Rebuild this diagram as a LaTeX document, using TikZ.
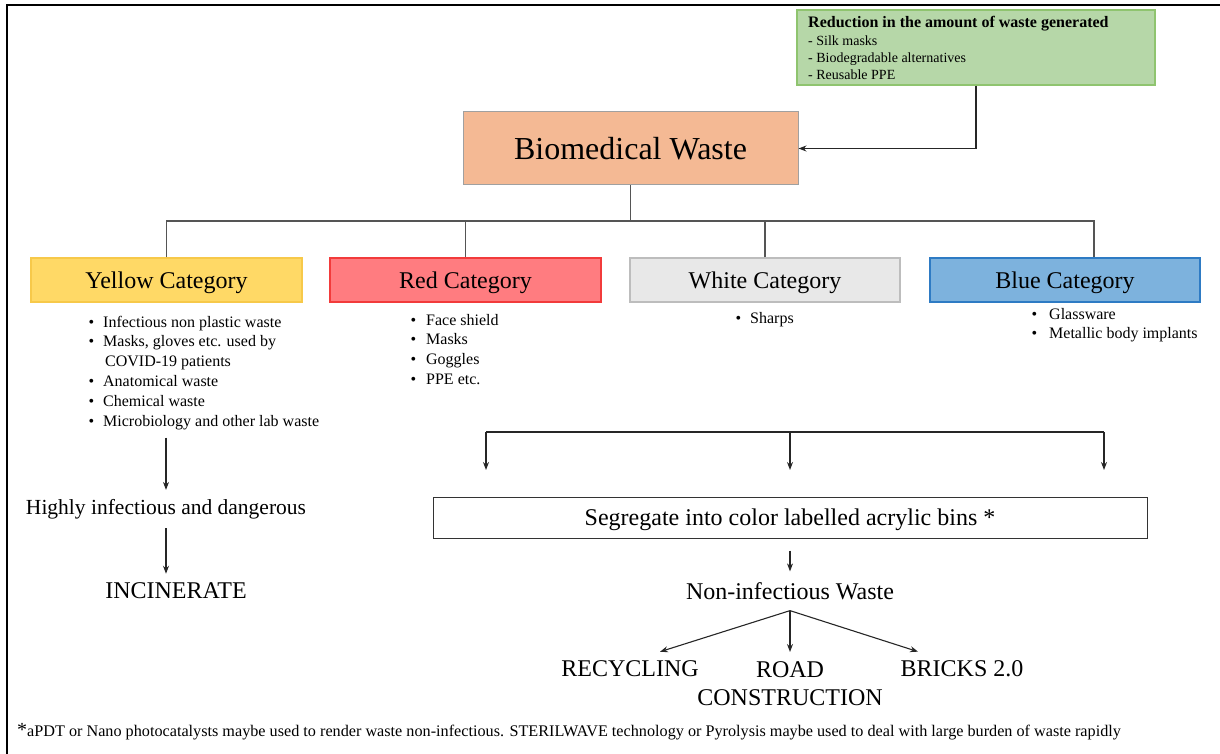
\documentclass[tikz,border=0pt]{standalone}
\usepackage{fontspec}
\setmainfont{Liberation Serif}
\usetikzlibrary{arrows.meta}
\definecolor{gfill}{HTML}{B6D7A8}
\definecolor{gdraw}{HTML}{8FC46F}
\definecolor{pfill}{HTML}{F4B994}
\definecolor{pdraw}{HTML}{A0A0A0}
\definecolor{yfill}{HTML}{FFD966}
\definecolor{ydraw}{HTML}{F7C94A}
\definecolor{rfill}{HTML}{FF7C80}
\definecolor{rdraw}{HTML}{F23B3B}
\definecolor{wfill}{HTML}{E8E8E8}
\definecolor{wdraw}{HTML}{BDBDBD}
\definecolor{bfill}{HTML}{7DB2DD}
\definecolor{bdraw}{HTML}{2E7BC4}
\definecolor{lgray}{HTML}{555555}
\newcommand{\fs}[2]{\fontsize{#1}{#2}\selectfont}
\newcommand{\bl}[2]{\makebox[#1][l]{\textbullet}#2}
\begin{document}
\begin{tikzpicture}[x=1pt,y=-1pt,
  box/.style={draw, line width=1.2pt, inner sep=0pt, align=center},
  cat/.style={box, minimum width=271pt, minimum height=44pt, text depth=0pt, font=\fs{24}{28}},
  link/.style={draw=lgray, line width=1.3pt},
  arr/.style={draw=black!85, line width=1.1pt, -{Stealth[length=8pt,width=6pt]}},
  big/.style={font=\fs{24}{28}, inner sep=9pt},
  blist/.style={anchor=base west, inner sep=0pt, font=\fs{16}{19.9}},
]
\useasboundingbox (0,0) rectangle (1220,754);
\draw[line width=1.6pt] (7,754) -- (7,5) -- (1220,5);

% reduction box
\node[box, draw=gdraw, fill=gfill, minimum width=358pt, minimum height=75pt] (green) at (976,47.5) {};
\node[anchor=base west, inner sep=0pt, font=\fs{14}{16.8}] (greentxt) at (808,28)
  {\begin{tabular}[t]{@{}l@{}}{\fs{16}{16.8}\bfseries Reduction in the amount of waste generated}\\[1pt]
   - Silk masks\\ - Biodegradable alternatives\\ - Reusable PPE\end{tabular}};

% main box
\node[box, draw=pdraw, fill=pfill, line width=1pt, minimum width=335pt, minimum height=73pt, text depth=0pt, font=\fs{32}{36}] (main) at (630.5,148.5) {Biomedical Waste};
\draw[arr] (green.south) |- (main.east);

% categories
\node[cat, draw=ydraw, fill=yfill] (yellow) at (166.5,280) {Yellow Category};
\node[cat, draw=rdraw, fill=rfill] (red) at (465.5,280) {Red Category};
\node[cat, draw=wdraw, fill=wfill, minimum width=270pt] (white) at (765,280) {White Category};
\node[cat, draw=bdraw, fill=bfill, minimum width=270pt] (blue) at (1065,280) {Blue Category};

\coordinate (bus) at (630.5,221);
\draw[link] (main.south) -- (bus);
\draw[link] (yellow.north) |- (bus) -| ([xshift=29pt]blue.north);
\draw[link] (red.north) -- (red.north |- bus);
\draw[link] (white.north) -- (white.north |- bus);

% bullet lists
\node[blist] (ylist) at (88.5,327) {\begin{tabular}[t]{@{}l@{}}
  \bl{14.5pt}{Infectious non plastic waste}\\
  \bl{14.5pt}{Masks, gloves etc. used by}\\
  \hspace*{16.5pt}COVID-19 patients\\
  \bl{14.5pt}{Anatomical waste}\\
  \bl{14.5pt}{Chemical waste}\\
  \bl{14.5pt}{Microbiology and other lab waste}\end{tabular}};
\node[blist] (rlist) at (410.5,325) {\begin{tabular}[t]{@{}l@{}}
  \bl{15.5pt}{Face shield}\\ \bl{15.5pt}{Masks}\\ \bl{15.5pt}{Goggles}\\ \bl{15.5pt}{PPE etc.}\end{tabular}};
\node[blist] (wlist) at (735.5,323) {\bl{14.5pt}{Sharps}};
\node[blist] (blist) at (1031.5,319) {\begin{tabular}[t]{@{}l@{}}
  \bl{17.5pt}{Glassware}\\ \bl{17.5pt}{Metallic body implants}\end{tabular}};

% left flow
\node[inner sep=9pt, font=\fs{21.5}{26}] (highly) at (166,509) {Highly infectious and dangerous};
\node[big] (incin) at (176,591) {INCINERATE};
\draw[arr] (highly.north |- ylist.south) ++(0,5) -- (highly.north);
\draw[arr] (highly.south) -- (highly.south |- incin.north);

% right flow
\coordinate (rl) at (486,432);
\coordinate (rm) at (790,432);
\coordinate (rr) at (1104,432);
\draw[draw=black!85, line width=1.1pt] (rl) -- (rr);
\draw[arr] (rl) -- ++(0,38);
\draw[arr] (rm) -- ++(0,38);
\draw[arr] (rr) -- ++(0,38);

\node[box, draw=black!80, line width=1pt, minimum width=714pt, minimum height=41pt, text depth=0pt, font=\fs{24}{28}] (seg) at (790,517.5) {Segregate into color labelled acrylic bins *};
\node[big, inner sep=10.8pt] (noninf) at (790,591) {Non-infectious Waste};
\draw[arr] (seg.south) ++(0,12) -- (noninf.north);

\node[big] (recyc) at (630,669) {RECYCLING};
\node[big, anchor=north, align=center] (road) at (790,652) {ROAD\\CONSTRUCTION};
\node[big] (bricks) at (962,669) {BRICKS 2.0};
\draw[arr] (noninf.south) -- ([xshift=30pt]recyc.north);
\draw[arr] (noninf.south) -- (road.north);
\draw[arr] (noninf.south) -- ([xshift=-44pt]bricks.north);

% footnote
\node[anchor=base west, inner sep=0pt, font=\fs{16.2}{18}] (foot) at (17,736)
  {{\fs{20}{20}*}aPDT or Nano photocatalysts maybe used to render waste non-infectious. STERILWAVE technology or Pyrolysis maybe used to deal with large burden of waste rapidly};
\end{tikzpicture}
\end{document}
